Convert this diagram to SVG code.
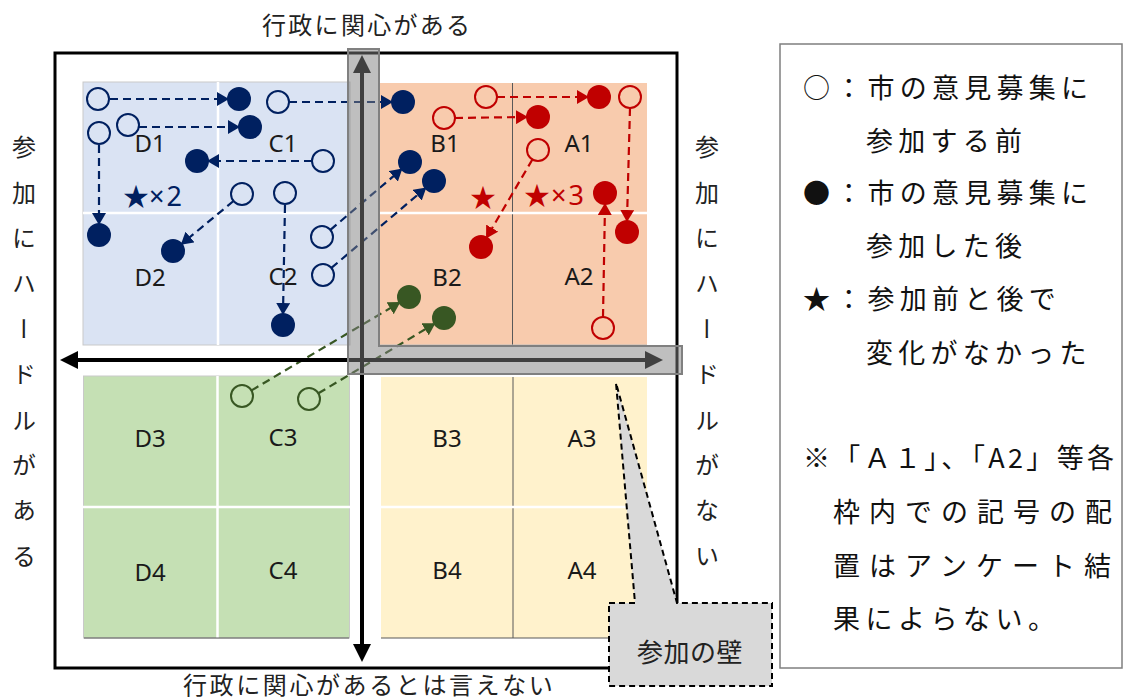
<svg xmlns="http://www.w3.org/2000/svg" width="1124" height="700" viewBox="0 0 1124 700">
<style>
.t{font-family:"Noto Sans CJK JP","Noto Sans",sans-serif;fill:#222}
.lbl{font-family:"Noto Sans","Noto Sans CJK JP",sans-serif;font-size:24px;fill:#1a1a1a;text-anchor:middle}
.vt{font-family:"Noto Sans CJK JP",sans-serif;font-size:24px;fill:#222;writing-mode:vertical-rl;text-orientation:upright;letter-spacing:21.4px}
.lg{font-family:"Noto Sans CJK JP",sans-serif;font-size:27px;fill:#111}
.wl{stroke:#fff;stroke-width:2.5}
.dl{stroke:#595959;stroke-width:1}
.no{fill:none;stroke:#002060;stroke-width:2}
.nf{fill:#002060}
.ro{fill:none;stroke:#c00000;stroke-width:2}
.rf{fill:#c00000}
.go{fill:none;stroke:#385723;stroke-width:2}
.gf{fill:#385723}
.cn{fill:none;stroke-width:2.2;stroke-dasharray:8 5}
.cN{stroke:#002060;marker-end:url(#aN)}
.cR{stroke:#c00000;marker-end:url(#aR)}
.cG{stroke:#385723;marker-end:url(#aG)}
.ax{stroke:#000;stroke-width:4;marker-start:url(#aK);marker-end:url(#aK)}
</style>
<defs>
<marker id="aN" viewBox="0 0 12 14" refX="10" refY="7" markerWidth="12" markerHeight="14" markerUnits="userSpaceOnUse" orient="auto"><path d="M0,0 L12,7 L0,14 Z" fill="#002060"/></marker>
<marker id="aR" viewBox="0 0 12 14" refX="10" refY="7" markerWidth="12" markerHeight="14" markerUnits="userSpaceOnUse" orient="auto"><path d="M0,0 L12,7 L0,14 Z" fill="#c00000"/></marker>
<marker id="aG" viewBox="0 0 12 14" refX="10" refY="7" markerWidth="12" markerHeight="14" markerUnits="userSpaceOnUse" orient="auto"><path d="M0,0 L12,7 L0,14 Z" fill="#385723"/></marker>
<marker id="aK" viewBox="0 0 18 18" refX="14" refY="9" markerWidth="18" markerHeight="18" markerUnits="userSpaceOnUse" orient="auto-start-reverse"><path d="M0,0 L18,9 L0,18 Z" fill="#000"/></marker>
</defs>
<rect width="1124" height="700" fill="#fff"/>

<!-- outer frame -->
<rect id="frame" x="55" y="53" width="622" height="615" fill="none" stroke="#000" stroke-width="3"/>

<!-- quadrants -->
<g id="q-blue">
<rect x="83" y="82" width="267" height="263" fill="#dae3f3" stroke="#c9c9c9" stroke-width="1"/>
<line class="wl" x1="218" y1="82" x2="218" y2="345"/>
<line class="wl" x1="83" y1="213" x2="350" y2="213"/>
</g>
<g id="q-peach">
<rect x="380" y="83" width="267" height="262" fill="#f8cbad"/>
<line class="dl" x1="512.5" y1="83" x2="512.5" y2="345"/>
<line class="wl" x1="380" y1="213" x2="647" y2="213"/>
<line x1="380" y1="345" x2="647" y2="345" stroke="#bfbfbf" stroke-width="1"/>
</g>
<g id="q-green">
<rect x="83.5" y="376" width="266" height="262" fill="#c5e0b4" stroke="#c9c9c9" stroke-width="1"/>
<line class="wl" x1="217.5" y1="376" x2="217.5" y2="638"/>
<line class="wl" x1="83" y1="507" x2="350" y2="507"/>
<line class="dl" x1="84" y1="638" x2="349" y2="638"/>
</g>
<g id="q-yellow">
<rect x="381" y="377" width="266" height="261" fill="#fff2cc"/>
<line class="dl" x1="513" y1="377" x2="513" y2="638"/>
<line class="wl" x1="381" y1="507" x2="647" y2="507"/>
<line class="dl" x1="381" y1="638" x2="647" y2="638"/>
</g>

<!-- cell labels -->
<g id="cell-labels">
<text class="lbl" x="150" y="151.5">D1</text>
<text class="lbl" x="283" y="151.5">C1</text>
<text class="lbl" x="445" y="151.5">B1</text>
<text class="lbl" x="579" y="151.5">A1</text>
<text class="lbl" x="150" y="285.5">D2</text>
<text class="lbl" x="283" y="284.5">C2</text>
<text class="lbl" x="447" y="285.5">B2</text>
<text class="lbl" x="579" y="284.5">A2</text>
<text class="lbl" x="150" y="446.5">D3</text>
<text class="lbl" x="283" y="445.5">C3</text>
<text class="lbl" x="447" y="446.5">B3</text>
<text class="lbl" x="582" y="446.5">A3</text>
<text class="lbl" x="150" y="580.5">D4</text>
<text class="lbl" x="283" y="578.5">C4</text>
<text class="lbl" x="447" y="578.5">B4</text>
<text class="lbl" x="582" y="578.5">A4</text>
</g>

<!-- connectors -->
<g id="connectors">
<line class="cn cN" x1="110" y1="99" x2="227" y2="99"/>
<line class="cn cN" x1="139" y1="127" x2="238" y2="127"/>
<line class="cn cN" x1="99" y1="145" x2="99" y2="223"/>
<line class="cn cN" x1="312" y1="161" x2="209" y2="161"/>
<line class="cn cN" x1="233.5" y1="201" x2="182.3" y2="243.4"/>
<line class="cn cN" x1="285" y1="205" x2="283" y2="313"/>
<line class="cn cN" x1="289" y1="102" x2="391" y2="102"/>
<line class="cn cN" x1="330.4" y1="229.9" x2="400.9" y2="169.8"/>
<line class="cn cN" x1="331.4" y1="267.9" x2="424.8" y2="188.8"/>
<line class="cn cR" x1="497" y1="97" x2="587" y2="97"/>
<line class="cn cR" x1="455" y1="118" x2="526" y2="117"/>
<line class="cn cR" x1="630" y1="108" x2="627" y2="220"/>
<line class="cn cR" x1="532.4" y1="159.5" x2="487.1" y2="236.7"/>
<line class="cn cR" x1="603" y1="317" x2="605" y2="205"/>
<line class="cn cG" x1="251.5" y1="390.4" x2="398.7" y2="303.1"/>
<line class="cn cG" x1="318.4" y1="393.3" x2="433.7" y2="324.2"/>
</g>

<!-- symbols -->
<g id="navy-symbols">
<circle class="no" cx="98" cy="99" r="11"/>
<circle class="nf" cx="239" cy="99" r="12"/>
<circle class="no" cx="128" cy="125" r="11"/>
<circle class="nf" cx="250" cy="127" r="12"/>
<circle class="no" cx="99" cy="133" r="11"/>
<circle class="nf" cx="99" cy="235" r="12"/>
<circle class="no" cx="323" cy="161" r="11"/>
<circle class="nf" cx="197" cy="161" r="12"/>
<circle class="no" cx="242" cy="194" r="11"/>
<circle class="nf" cx="173" cy="251" r="12"/>
<circle class="no" cx="285" cy="193" r="11"/>
<circle class="nf" cx="283" cy="325" r="12"/>
<circle class="no" cx="322" cy="237" r="11"/>
<circle class="no" cx="323" cy="275" r="11"/>
<circle class="no" cx="278" cy="102" r="11"/>
<circle class="nf" cx="403" cy="102" r="12"/>
<circle class="nf" cx="410" cy="162" r="12"/>
<circle class="nf" cx="434" cy="181" r="12"/>
<text class="t" x="123" y="206" font-size="26" style="fill:#002060">★</text>
<text x="149" y="206" font-family="Noto Sans, sans-serif" font-size="27" fill="#002060" letter-spacing="2">×2</text>
</g>
<g id="red-symbols">
<circle class="ro" cx="486" cy="97" r="11"/>
<circle class="rf" cx="599" cy="97" r="12"/>
<circle class="ro" cx="444" cy="118" r="11"/>
<circle class="rf" cx="538" cy="117" r="12"/>
<circle class="ro" cx="630" cy="97" r="11"/>
<circle class="rf" cx="627" cy="232" r="12"/>
<circle class="ro" cx="538" cy="150" r="11"/>
<circle class="rf" cx="481" cy="247" r="12"/>
<circle class="rf" cx="605" cy="193" r="12"/>
<circle class="ro" cx="603" cy="328" r="11"/>
<text class="t" x="470" y="207" font-size="26" style="fill:#c00000">★</text>
<text class="t" x="524" y="205" font-size="26" style="fill:#c00000">★</text>
<text x="551" y="205" font-family="Noto Sans, sans-serif" font-size="27" fill="#c00000" letter-spacing="2">×3</text>
</g>
<g id="green-symbols">
<circle class="go" cx="242" cy="396" r="11"/>
<circle class="go" cx="309" cy="399" r="11"/>
<circle class="gf" cx="409" cy="297" r="12"/>
<circle class="gf" cx="444" cy="318" r="12"/>
</g>

<!-- axes -->
<g id="axes">
<line class="ax" x1="362" y1="59" x2="362" y2="658"/>
<line class="ax" x1="64" y1="360" x2="659" y2="360"/>
</g>

<!-- wall -->
<g id="wall">
<path d="M348,49 H379 V346 H682 V374 H348 Z" fill="#7f7f7f" fill-opacity="0.5" stroke="#808080" stroke-width="2"/>
</g>

<!-- callout -->
<g id="callout">
<path d="M609,603 H635 L616,383 L677,603 H772 V686 H609 Z" fill="#d9d9d9" stroke="#000" stroke-width="2" stroke-dasharray="6 4"/>
<text class="t" x="637" y="662" font-size="26" letter-spacing="0.5">参加の壁</text>
</g>

<!-- axis labels -->
<g id="axis-labels">
<text class="t" x="262" y="34" font-size="24" letter-spacing="2.3">行政に関心がある</text>
<text class="t" x="183" y="694" font-size="24" letter-spacing="2.6">行政に関心があるとは言えない</text>
<text class="vt" x="24" y="135">参加にハードルがある</text>
<text class="vt" x="707" y="135">参加にハードルがない</text>
</g>

<!-- legend -->
<g id="legend">
<rect x="780" y="44" width="342" height="624" fill="#fff" stroke="#7f7f7f" stroke-width="1.5"/>
<text class="lg" x="803" y="98" letter-spacing="5.25">○：市の意見募集に</text>
<text class="lg" x="866" y="151" letter-spacing="5.25">参加する前</text>
<text class="lg" x="803" y="203" letter-spacing="5.25">●：市の意見募集に</text>
<text class="lg" x="866" y="256" letter-spacing="5.25">参加した後</text>
<text class="lg" x="803" y="309" letter-spacing="5.25">★：参加前と後で</text>
<text class="lg" x="866" y="363" letter-spacing="5.25">変化がなかった</text>
<text class="lg" x="803" y="468" textLength="311" lengthAdjust="spacing">※「Ａ１」、「A2」等各</text>
<text class="lg" x="833" y="522" letter-spacing="9">枠内での記号の配</text>
<text class="lg" x="833" y="576" letter-spacing="9">置はアンケート結</text>
<text class="lg" x="833" y="629" letter-spacing="5.5">果によらない。</text>
</g>
</svg>
